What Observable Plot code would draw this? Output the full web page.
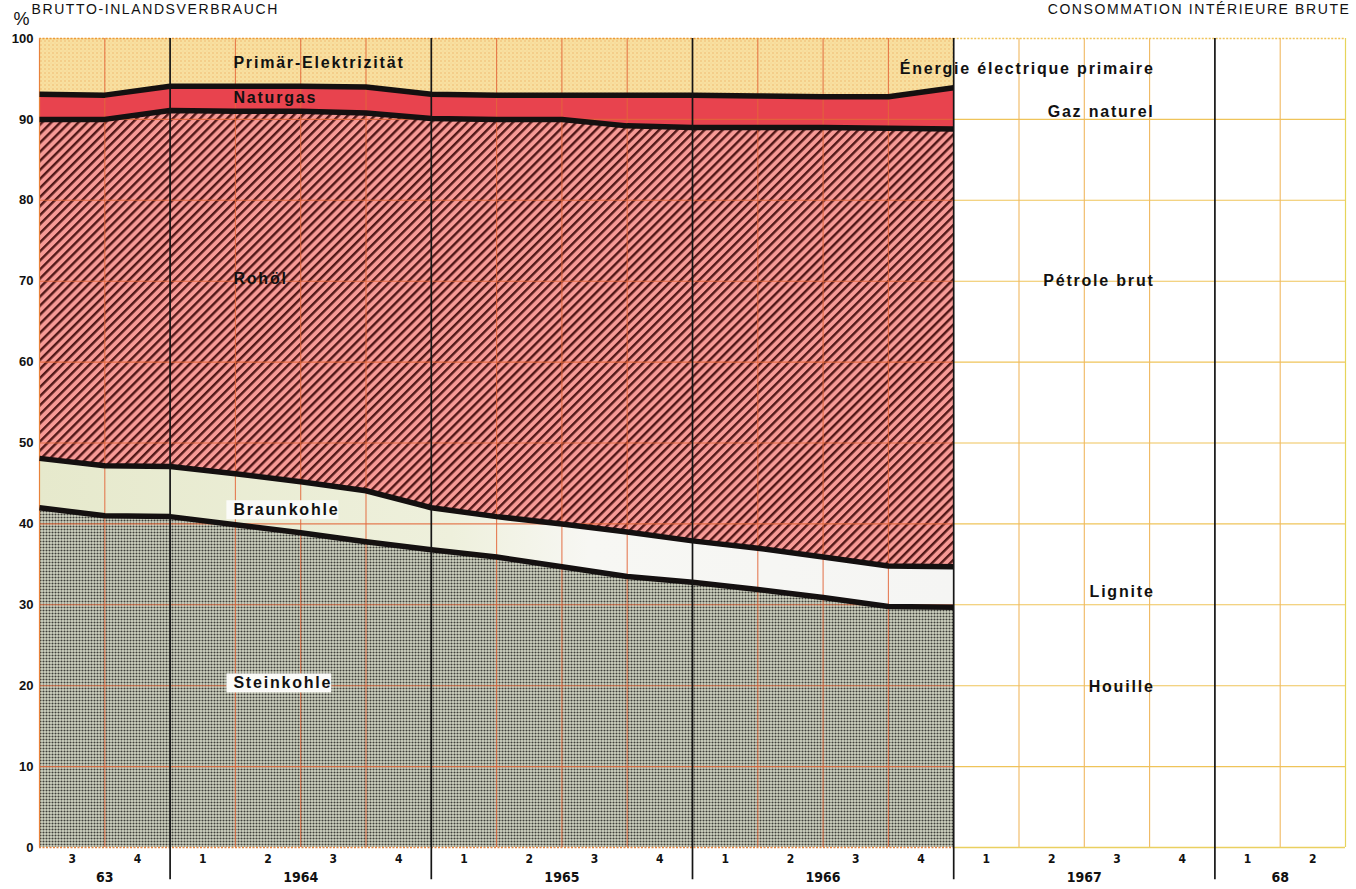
<!DOCTYPE html>
<html><head><meta charset="utf-8">
<script src="https://cdn.jsdelivr.net/npm/d3@7"></script>
<script src="https://cdn.jsdelivr.net/npm/@observablehq/plot@0.6"></script>
<style>
body{margin:0;background:#fff;}
#chart{position:relative;width:1356px;height:889px;overflow:hidden;background:#fff}
</style>
</head><body><div id="chart"></div>
<script>
// Quarter boundaries where values are recorded (index 0 = start of 1963 Q3)
const boundaries = ["1963-07","1963-10","1964-01","1964-04","1964-07","1964-10","1965-01","1965-04","1965-07","1965-10","1966-01","1966-04","1966-07","1966-10","1967-01"];
const sources = ["Steinkohle","Braunkohle","Rohöl","Naturgas","Primär-Elektrizität"];
const sourcesFr = ["Houille","Lignite","Pétrole brut","Gaz naturel","Énergie électrique primaire"];
// shares in % of gross inland consumption
const steinkohle    = [42.0, 41.0, 40.9, 39.9, 38.9, 37.8, 36.8, 35.9, 34.7, 33.5, 32.8, 31.9, 30.9, 29.8, 29.7];
const braunkohle    = [ 6.1,  6.2,  6.2,  6.3,  6.3,  6.3,  5.2,  5.0,  5.3,  5.5,  5.1,  5.1,  5.0,  5.0,  5.0];
const rohoel        = [41.9, 42.8, 44.0, 44.8, 45.8, 46.7, 48.1, 49.1, 50.0, 50.2, 51.1, 52.0, 53.1, 54.1, 54.1];
const naturgas      = [ 3.1,  3.0,  3.0,  3.1,  3.1,  3.2,  3.0,  3.0,  3.0,  3.8,  4.0,  3.9,  3.8,  3.9,  5.1];
const elektrizitaet = [ 6.9,  7.0,  5.9,  5.9,  5.9,  6.0,  6.9,  7.0,  7.0,  7.0,  7.0,  7.1,  7.2,  7.2,  6.1];
// axis labels: one per quarter column (1963 Q3 .. 1968 Q2)
const quarterLabels = ["3","4","1","2","3","4","1","2","3","4","1","2","3","4","1","2","3","4","1","2"];
const yearLabels = ["63","1964","1965","1966","1967","68"];
const yTicks = [0,10,20,30,40,50,60,70,80,90,100];
const headerDe = "BRUTTO-INLANDSVERBRAUCH";
const headerFr = "CONSOMMATION INTÉRIEURE BRUTE";
// annotation placement (value axis)
const labelYDe = [20.3, 41.7, 70.3, 92.6, 97.0];
const labelYFr = [19.9, 31.6, 70.0, 90.9, 96.3];

const seriesValues = [steinkohle, braunkohle, rohoel, naturgas, elektrizitaet];
const table = [];
sources.forEach((s, k) => boundaries.forEach((b, i) => table.push({i, period: b, source: s, value: seriesValues[k][i]})));
const lineTable = table.filter(d => d.source !== "Primär-Elektrizität");

// year spans from quarter labels
const years = [];
quarterLabels.forEach((q, i) => {
  if (i === 0 || q === "1") years.push({label: yearLabels[years.length], start: i, end: i + 1});
  else years[years.length - 1].end = i + 1;
});
const nCols = quarterLabels.length;
const dataEnd = boundaries.length - 1;
const yearLines = years.slice(1).map(y => y.start);
const qLinesLeft = d3.range(1, dataEnd).filter(i => !yearLines.includes(i));
const qLinesRight = d3.range(dataEnd + 1, nCols).filter(i => !yearLines.includes(i));

const fills = ["url(#steinPat)", "url(#braunGrad)", "url(#oilPat)", "#e8434e", "url(#elecPat)"];
const boldSans = "'Liberation Sans', Arial, Helvetica, sans-serif";
const narrow = "'Liberation Sans Narrow', 'DejaVu Sans Condensed', 'Liberation Sans', sans-serif";

const plot = Plot.plot({
  width: 1356, height: 889,
  marginLeft: 39, marginRight: 11, marginTop: 38, marginBottom: 42,
  x: {domain: [0, nCols], axis: null},
  y: {domain: [0, 100], axis: null},
  color: {domain: sources, range: fills},
  style: {fontFamily: boldSans, background: "transparent", overflow: "visible"},
  marks: [
    Plot.areaY(table, Plot.stackY({x: "i", y: "value", fill: "source", order: sources, curve: "linear"})),
    // grid over the data part
    Plot.ruleY(yTicks.filter(v => v > 0 && v < 100), {x1: 0, x2: dataEnd, stroke: "#e2663a", strokeWidth: 1.1, strokeOpacity: 0.85}),
    Plot.ruleX(qLinesLeft, {y1: 0, y2: 100, stroke: "#e2663a", strokeWidth: 1.1, strokeOpacity: 0.85}),
    // grid over the empty part
    Plot.ruleY(yTicks.filter(v => v > 0 && v < 100), {x1: dataEnd, x2: nCols, stroke: "#efc45a", strokeWidth: 1.1}),
    Plot.ruleX(qLinesRight, {y1: 0, y2: 100, stroke: "#f0b860", strokeWidth: 1.1}),
    // frame
    Plot.ruleX([0], {y1: 0, y2: 100, stroke: "#e8823a", strokeWidth: 1.2}),
    Plot.ruleX([nCols], {y1: 0, y2: 100, stroke: "#e6d45a", strokeWidth: 1.2}),
    Plot.ruleY([100], {x1: 0, x2: dataEnd, stroke: "#ec9a3c", strokeWidth: 1.4, strokeDasharray: "2,1.5"}),
    Plot.ruleY([100], {x1: dataEnd, x2: nCols, stroke: "#f0c45a", strokeWidth: 1.4, strokeDasharray: "2,1.5"}),
    Plot.ruleY([0], {x1: 0, x2: dataEnd, stroke: "#e8823a", strokeWidth: 1.4, strokeDasharray: "2,1.5"}),
    Plot.ruleY([0], {x1: dataEnd, x2: nCols, stroke: "#ead060", strokeWidth: 1.4}),
    // thick boundary lines between sources
    Plot.lineY(lineTable, Plot.stackY2({x: "i", y: "value", z: "source", order: sources, stroke: "#141010", strokeWidth: 5.5, strokeLinejoin: "round", strokeLinecap: "butt"})),
    // year separators
    Plot.ruleX(yearLines, {y1: 100, y2: -4, stroke: "#151515", strokeWidth: 1.7}),
    // value axis labels
    Plot.text(yTicks, {x: 0, y: d => d, text: d => String(d), textAnchor: "end", dx: -6, fontSize: 13, fontWeight: "bold", fill: "#111"}),
    Plot.text(["%"], {x: 0, y: 100, dx: -18, dy: -19, fontSize: 18, fill: "#111"}),
    // time axis labels
    Plot.text(quarterLabels, {x: (d, i) => i + 0.5, y: 0, dy: 12, text: d => d, fontSize: 12, fontWeight: "bold", fontFamily: narrow, fill: "#111"}),
    Plot.text(years, {x: d => (d.start + d.end) / 2, y: 0, dy: 30, text: "label", fontSize: 14, fontWeight: "bold", fontFamily: narrow, fill: "#111"}),
    // German labels
    Plot.text(sources, {x: 3, y: (d, i) => labelYDe[i], text: d => d, textAnchor: "start", dx: -2, fontSize: 16, fontWeight: "bold", fill: "#111"}),
    // French labels
    Plot.text(sourcesFr, {x: 17, y: (d, i) => labelYFr[i], text: d => d, textAnchor: "end", dx: 5, fontSize: 16, fontWeight: "bold", fill: "#111"}),
    // header lines
    Plot.text([headerFr], {x: nCols, y: 100, dx: 5, dy: -25, textAnchor: "end", lineAnchor: "bottom", fontSize: 14, fill: "#111"}),
    Plot.text([headerDe], {x: 0, y: 100, dx: -8, dy: -25, textAnchor: "start", lineAnchor: "bottom", fontSize: 14, fill: "#111"})
  ]
});

document.getElementById("chart").appendChild(plot);
const svg = d3.select(plot);
svg.insert("defs", ":first-child").html(`
  <pattern id="elecPat" patternUnits="userSpaceOnUse" width="4" height="4">
    <rect width="4" height="4" fill="#f8e0a0"/>
    <circle cx="1" cy="1" r="0.8" fill="#eba45a" fill-opacity="0.7"/>
    <circle cx="3" cy="3" r="0.6" fill="#f0c080" fill-opacity="0.6"/>
  </pattern>
  <pattern id="oilPat" patternUnits="userSpaceOnUse" width="6.4" height="6.4" patternTransform="rotate(45)">
    <rect width="6.4" height="6.4" fill="#f79a96"/>
    <rect x="0" y="0" width="2.4" height="6.4" fill="#521818"/>
  </pattern>
  <pattern id="steinPat" patternUnits="userSpaceOnUse" width="3" height="3">
    <rect width="3" height="3" fill="#d3d6c4"/>
    <circle cx="1.5" cy="1.5" r="1.05" fill="#3f3f3a"/>
  </pattern>
  <linearGradient id="braunGrad" gradientUnits="userSpaceOnUse" x1="39" y1="0" x2="955" y2="0">
    <stop offset="0" stop-color="#e6e9cc"/>
    <stop offset="0.45" stop-color="#eef0dc"/>
    <stop offset="0.6" stop-color="#f7f7f3"/>
    <stop offset="1" stop-color="#f5f5f3"/>
  </linearGradient>
`);
const spaced = new Set([...sources, ...sourcesFr]);
const boxed = new Set(sources.slice(0, 2));
svg.selectAll("text").each(function() {
  const txt = this.textContent;
  if (spaced.has(txt)) this.style.letterSpacing = "1.8px";
  if (txt === headerDe || txt === headerFr) this.style.letterSpacing = "1.6px";
});
svg.selectAll("text").each(function() {
  if (!boxed.has(this.textContent)) return;
  const b = this.getBBox();
  const r = document.createElementNS("http://www.w3.org/2000/svg", "rect");
  r.setAttribute("x", b.x - 7); r.setAttribute("y", b.y - 1);
  r.setAttribute("width", b.width + 6); r.setAttribute("height", b.height + 2);
  r.setAttribute("fill", "#fbfbf8");
  const t = this.getAttribute("transform"); if (t) r.setAttribute("transform", t);
  this.parentNode.insertBefore(r, this);
});
</script>
</body></html>
